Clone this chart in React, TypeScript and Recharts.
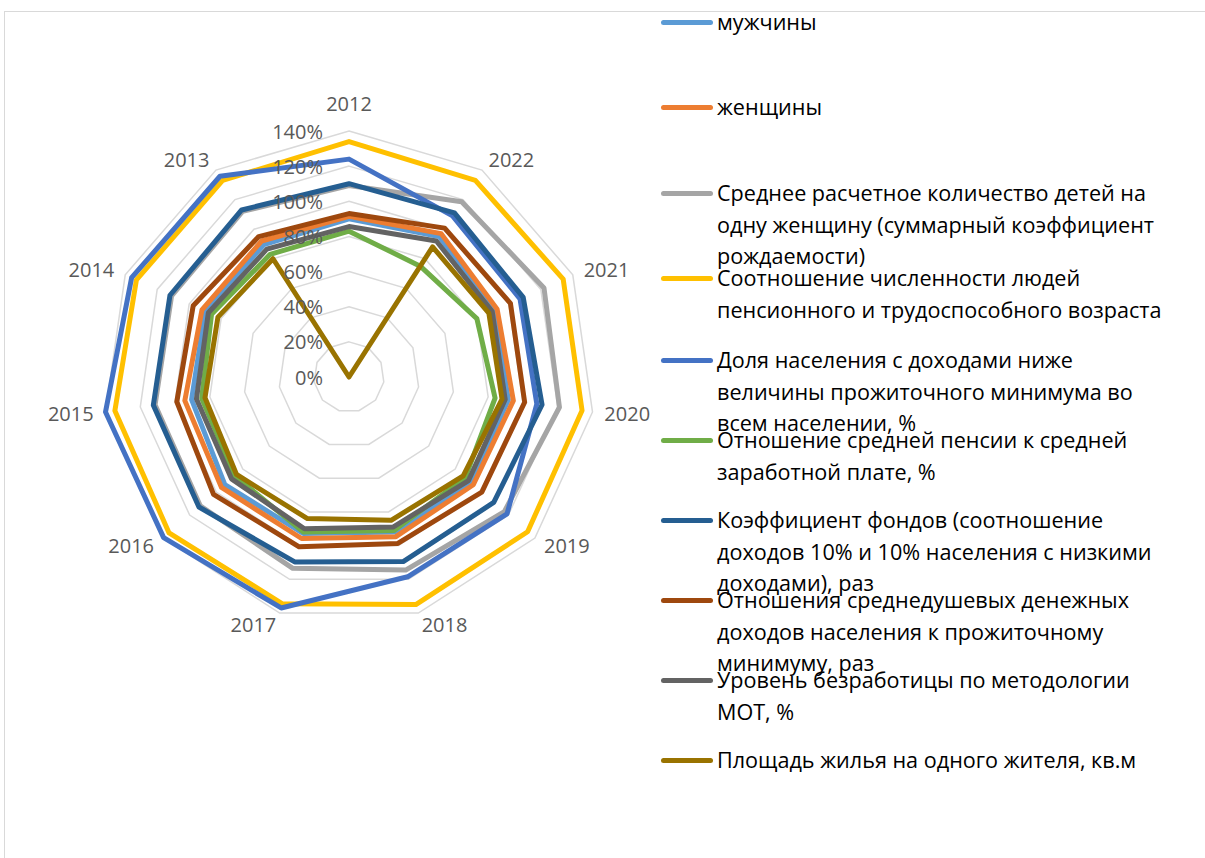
import React from 'react';
import { RadarChart, Radar, PolarGrid, PolarAngleAxis, PolarRadiusAxis } from 'recharts';

const years = ['2012', '2022', '2021', '2020', '2019', '2018', '2017', '2016', '2015', '2014', '2013'];

const men = [90, 95, 91, 91.6, 91.5, 92, 92.8, 93.5, 90.5, 90, 89.6];
const women = [91.5, 97, 92.7, 94.5, 93.6, 94.7, 95.8, 96, 94.4, 92, 92];
const fertility = [109, 118.6, 122, 121, 117, 114.5, 113.5, 112, 111.5, 111, 112];
const pensionRatio = [134, 133, 134, 134, 134.5, 135, 134.5, 135.5, 134.6, 133, 133];
const poverty = [124, 109, 107, 108, 119, 118.5, 137, 139.6, 140, 136, 135.8];
const pensionWage = [83, 75, 80, 84, 87.5, 91, 92, 86, 84.7, 86, 83];
const fundsRatio = [110, 111, 109, 111, 109, 109.5, 109.7, 113, 112.5, 112, 113];
const incomeRatio = [93, 100.7, 101, 101, 100, 98.7, 100.7, 102, 99, 97.5, 95];
const unemployment = [85.6, 92, 89.6, 89.8, 90, 89, 90, 88.5, 87.7, 88, 86.5];
const housing = [0, 88, 87.5, 88, 86, 85, 84, 84.7, 82.8, 82, 80];

const radiusTicks = [0, 20, 40, 60, 80, 100, 120, 140];

const seriesNames = [
  'мужчины',
  'женщины',
  'Среднее расчетное количество детей на\nодну женщину (суммарный коэффициент\nрождаемости)',
  'Соотношение численности людей\nпенсионного и трудоспособного возраста',
  'Доля населения с доходами ниже\nвеличины прожиточного минимума во\nвсем населении, %',
  'Отношение средней пенсии к средней\nзаработной плате, %',
  'Коэффициент фондов (соотношение\nдоходов 10% и 10% населения с низкими\nдоходами), раз',
  'Отношения среднедушевых денежных\nдоходов населения к прожиточному\nминимуму, раз',
  'Уровень безработицы по методологии\nМОТ, %',
  'Площадь жилья на одного жителя, кв.м',
];
const seriesValues = [men, women, fertility, pensionRatio, poverty, pensionWage, fundsRatio, incomeRatio, unemployment, housing];
const seriesColors = ['#5B9BD5', '#ED7D31', '#A5A5A5', '#FFC000', '#4472C4', '#70AD47', '#255E91', '#9E480E', '#636363', '#997300'];

const data = years.map((year, i) => {
  const row: Record<string, string | number> = { year };
  seriesValues.forEach((vals, s) => {
    row['s' + s] = vals[i];
  });
  return row;
});

const CX = 349;
const CY = 377;
const R = 246;
const FONT = '"Open Sans", "Noto Sans", sans-serif';

const legendY = [22, 107, 193, 278, 360, 440, 520, 600, 680, 760];

const AngleTick = (props: any) => {
  const { x, y, payload } = props;
  const dx = x - CX;
  const dy = y - CY;
  const len = Math.hypot(dx, dy) || 1;
  const ux = dx / len;
  const uy = dy / len;
  let px = CX + ux * (R + 12);
  let py = CY + uy * (R + 12);
  let anchor: 'start' | 'end' | 'middle' = 'middle';
  if (ux > 0.05) anchor = 'start';
  else if (ux < -0.05) anchor = 'end';
  else if (uy < 0) py -= 16;
  else py += 16;
  return (
    <text x={px} y={py} textAnchor={anchor} dominantBaseline="central" fill="#595959" fontSize={20} fontFamily={FONT}>
      {payload.value}
    </text>
  );
};

const RadiusTick = (props: any) => {
  const { y, payload } = props;
  return (
    <text x={CX - 26} y={y} textAnchor="end" dominantBaseline="central" fill="#595959" fontSize={20} fontFamily={FONT}>
      {payload.value + '%'}
    </text>
  );
};

export default function App() {
  return (
    <div style={{ position: 'absolute', left: 0, top: 0, width: 1205, height: 858, overflow: 'hidden', background: '#fff' }}>
      <div style={{ position: 'absolute', left: 4, top: 11, width: 1300, height: 1000, border: '1px solid #D9D9D9' }} />
      <div style={{ position: 'absolute', left: 0, top: 0 }}>
        <RadarChart width={700} height={858} cx={CX} cy={CY} outerRadius={R} data={data} margin={{ top: 0, right: 0, bottom: 0, left: 0 }}>
          <PolarGrid gridType="polygon" radialLines={false} stroke="#D9D9D9" strokeWidth={1.5} />
          {seriesValues.map((_, s) => (
            <Radar
              key={s}
              name={seriesNames[s]}
              dataKey={'s' + s}
              stroke={seriesColors[s]}
              strokeWidth={5}
              strokeLinejoin="round"
              fill="none"
              fillOpacity={0}
              dot={false}
              isAnimationActive={false}
            />
          ))}
          <PolarAngleAxis dataKey="year" tick={<AngleTick />} tickLine={false} axisLine={false} />
          <PolarRadiusAxis angle={90} domain={[0, 140]} ticks={radiusTicks} tick={<RadiusTick />} axisLine={false} tickLine={false} />
        </RadarChart>
      </div>
      {seriesNames.map((name, s) => (
        <div key={s} style={{ position: 'absolute', left: 661, top: legendY[s] - 16, width: 544 }}>
          <div style={{ position: 'absolute', left: 0, top: 14, width: 52, height: 4.5, borderRadius: 3, background: seriesColors[s] }} />
          <div style={{ position: 'absolute', left: 56, top: 0, fontFamily: FONT, fontSize: 21.6, lineHeight: '31.5px', color: '#000', whiteSpace: 'pre' }}>
            {name}
          </div>
        </div>
      ))}
    </div>
  );
}
